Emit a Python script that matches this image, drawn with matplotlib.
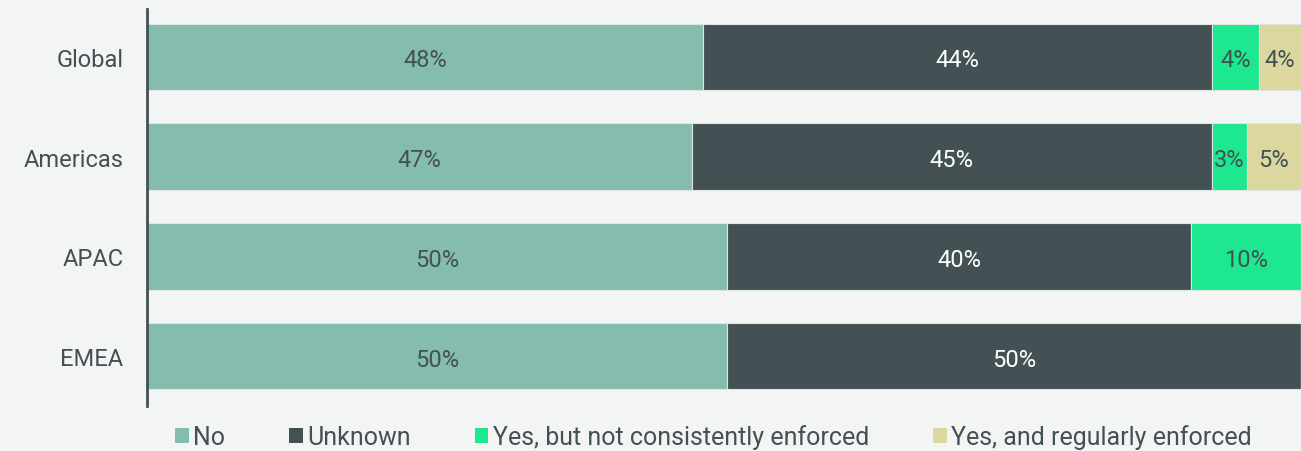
import matplotlib
matplotlib.use("Agg")
import matplotlib.pyplot as plt
import numpy as np

regions = ["Global", "Americas", "APAC", "EMEA"]
series_names = ["No", "Unknown", "Yes, but not consistently enforced", "Yes, and regularly enforced"]
no_vals = [48.2, 47.2, 50.3, 50.3]
unknown_vals = [44.1, 45.1, 40.2, 49.7]
yes_not_vals = [4.1, 3.0, 9.5, 0.0]
yes_reg_vals = [3.6, 4.7, 0.0, 0.0]

colors = ["#84bcad", "#435155", "#1de890", "#dcd79e"]
text_colors = ["#435155", "#ffffff", "#435155", "#435155"]
bg = "#f3f5f4"

plt.rcParams['font.family'] = ['Roboto', 'DejaVu Sans']

fig = plt.figure(figsize=(13.01, 4.52), dpi=100, facecolor=bg)
ax = fig.add_axes([147/1301, 1-407/452, 1-147/1301, (407-10)/452])
ax.set_facecolor(bg)

y = np.arange(len(regions))
left = np.zeros(len(regions))
all_vals = [no_vals, unknown_vals, yes_not_vals, yes_reg_vals]
for name, vals, c, tc in zip(series_names, all_vals, colors, text_colors):
    vals = np.array(vals)
    ax.barh(y, vals, left=left, height=0.665, color=c, edgecolor="#dfe5e3",
            linewidth=0.8, label=name)
    for yi, v, l in zip(y, vals, left):
        if v > 0:
            ax.text(l + v/2, yi + 0.03, f"{round(v):.0f}%", ha="center", va="center",
                    color=tc, fontsize=17)
    left = left + vals

ax.set_xlim(0, 100)
ax.set_ylim(3.5, -0.48)
ax.set_yticks(y)
ax.set_yticklabels(regions, fontsize=17, color="#435155")
ax.tick_params(axis="y", length=0, pad=17)
ax.set_xticks([])
for s in ["top", "right", "bottom"]:
    ax.spines[s].set_visible(False)
ax.spines["left"].set_color("#435155")
ax.spines["left"].set_linewidth(2)

handles, labels = ax.get_legend_handles_labels()
leg = fig.legend(handles, labels, loc="center left", bbox_to_anchor=(175/1301, 1-438/452),
                 ncol=4, frameon=False, fontsize=18, handlelength=0.55, handleheight=0.5,
                 handletextpad=0.18, columnspacing=2.55, borderaxespad=0, borderpad=0)
for t in leg.get_texts():
    t.set_color("#435155")
for h in leg.legend_handles:
    h.set_edgecolor("none")

fig.savefig("out.png", dpi=100, facecolor=bg)
